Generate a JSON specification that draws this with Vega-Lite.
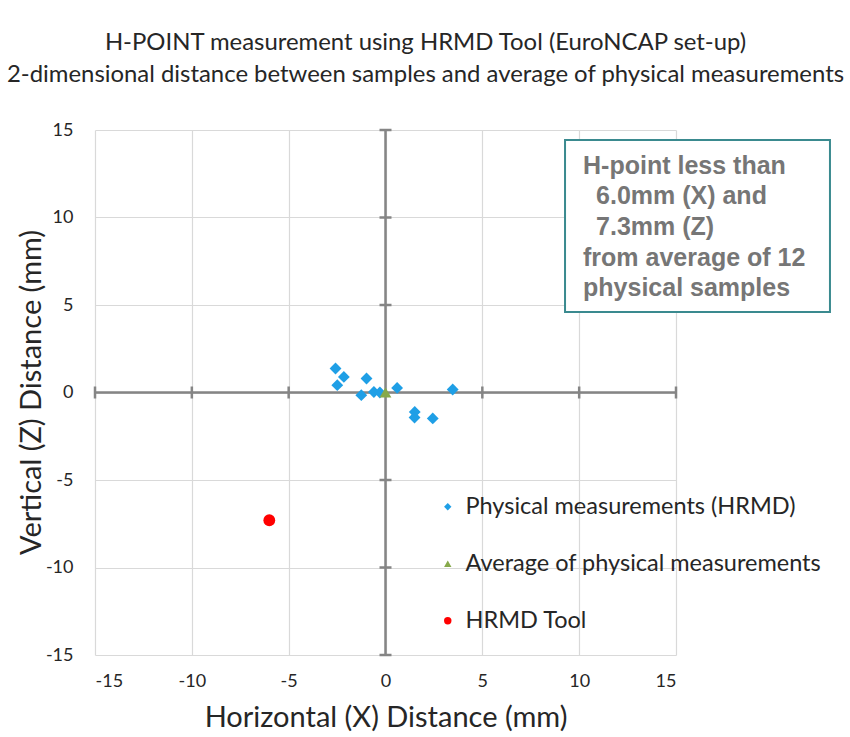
{
  "$schema": "https://vega.github.io/schema/vega-lite/v6.json",
  "width": 581,
  "height": 525,
  "autosize": {"type": "none"},
  "padding": {"left": 95, "top": 130, "right": 174, "bottom": 82},
  "background": "white",
  "config": {
    "view": {"stroke": null},
    "font": "Lato",
    "axis": {"labelFont": "Lato", "titleFont": "Lato"}
  },
  "title": {
    "text": ["H-POINT measurement using HRMD Tool (EuroNCAP set-up)", "2-dimensional distance between samples and average of physical measurements"],
    "font": "Lato",
    "fontSize": 23.9,
    "fontWeight": "normal",
    "color": "#262626",
    "anchor": "middle",
    "frame": "group",
    "dx": 40,
    "baseline": "alphabetic",
    "offset": 15,
    "lineHeight": 32
  },
  "datasets": {
    "pts": [
      {"x": -2.58, "z": 1.37, "series": "Physical measurements (HRMD)"},
      {"x": -2.15, "z": 0.89, "series": "Physical measurements (HRMD)"},
      {"x": -2.49, "z": 0.42, "series": "Physical measurements (HRMD)"},
      {"x": -0.98, "z": 0.8, "series": "Physical measurements (HRMD)"},
      {"x": -1.25, "z": -0.15, "series": "Physical measurements (HRMD)"},
      {"x": -0.6, "z": 0.03, "series": "Physical measurements (HRMD)"},
      {"x": -0.29, "z": 0.0, "series": "Physical measurements (HRMD)"},
      {"x": 0.6, "z": 0.26, "series": "Physical measurements (HRMD)"},
      {"x": 3.47, "z": 0.17, "series": "Physical measurements (HRMD)"},
      {"x": 1.51, "z": -1.11, "series": "Physical measurements (HRMD)"},
      {"x": 1.5, "z": -1.43, "series": "Physical measurements (HRMD)"},
      {"x": 2.44, "z": -1.48, "series": "Physical measurements (HRMD)"},
      {"x": 0.0, "z": 0.0, "series": "Average of physical measurements"},
      {"x": -6.0, "z": -7.3, "series": "HRMD Tool"}
    ],
    "ticks": [
      {"v": -15}, {"v": -10}, {"v": -5}, {"v": 5}, {"v": 10}, {"v": 15}
    ],
    "one": [{}]
  },
  "layer": [
    {
      "data": {"name": "pts"},
      "mark": {"type": "point", "opacity": 0},
      "encoding": {
        "x": {
          "field": "x", "type": "quantitative",
          "scale": {"domain": [-15, 15], "nice": false, "zero": false},
          "axis": {
            "values": [-15, -10, -5, 0, 5, 10, 15],
            "labelExpr": "datum.value + ''",
            "domain": false, "ticks": false,
            "grid": true, "gridColor": "#d9d9d9", "gridWidth": 1.2,
            "labelFontSize": 18, "labelColor": "#262626", "labelPadding": 17,
            "title": "Horizontal (X) Distance (mm)",
            "titleFontSize": 29, "titleFontWeight": "normal", "titleColor": "#262626",
            "titleY": 62, "titleBaseline": "middle"
          }
        },
        "y": {
          "field": "z", "type": "quantitative",
          "scale": {"domain": [-15, 15], "nice": false, "zero": false},
          "axis": {
            "values": [-15, -10, -5, 0, 5, 10, 15],
            "labelExpr": "datum.value + ''",
            "domain": false, "ticks": false,
            "grid": true, "gridColor": "#d9d9d9", "gridWidth": 1.2,
            "labelFontSize": 18, "labelColor": "#262626", "labelPadding": 22,
            "title": "Vertical (Z) Distance (mm)",
            "titleFontSize": 29, "titleFontWeight": "normal", "titleColor": "#262626",
            "titleX": -64, "titleY": 262, "titleAngle": -90, "titleBaseline": "middle", "titleAlign": "center"
          }
        }
      }
    },
    {
      "data": {"name": "one"},
      "mark": {"type": "rule", "color": "#858585", "strokeWidth": 2.5},
      "encoding": {"x": {"datum": 0, "type": "quantitative"}}
    },
    {
      "data": {"name": "one"},
      "mark": {"type": "rule", "color": "#858585", "strokeWidth": 2.5},
      "encoding": {"y": {"datum": 0, "type": "quantitative"}}
    },
    {
      "data": {"name": "ticks"},
      "mark": {"type": "tick", "orient": "vertical", "color": "#858585", "thickness": 2.5, "size": 12, "opacity": 1},
      "encoding": {
        "x": {"field": "v", "type": "quantitative"},
        "y": {"datum": 0, "type": "quantitative"}
      }
    },
    {
      "data": {"name": "ticks"},
      "mark": {"type": "tick", "orient": "horizontal", "color": "#858585", "thickness": 2.5, "size": 12, "opacity": 1},
      "encoding": {
        "y": {"field": "v", "type": "quantitative"},
        "x": {"datum": 0, "type": "quantitative"}
      }
    },
    {
      "data": {"name": "pts"},
      "mark": {"type": "point", "filled": true, "opacity": 1, "size": 140},
      "encoding": {
        "x": {"field": "x", "type": "quantitative"},
        "y": {"field": "z", "type": "quantitative"},
        "color": {
          "field": "series", "type": "nominal",
          "scale": {
            "domain": ["Physical measurements (HRMD)", "Average of physical measurements", "HRMD Tool"],
            "range": ["#1f9fe6", "#86a94a", "#ff0000"]
          },
          "legend": {
            "orient": "none", "legendX": 341, "legendY": 365,
            "title": null,
            "labelFont": "Lato", "labelFontSize": 23.5, "labelColor": "#262626",
            "symbolSize": 55, "rowPadding": 32, "labelOffset": 6,
            "labelLimit": 400, "symbolStrokeWidth": 0
          }
        },
        "shape": {
          "field": "series", "type": "nominal",
          "scale": {
            "domain": ["Physical measurements (HRMD)", "Average of physical measurements", "HRMD Tool"],
            "range": ["diamond", "triangle-up", "circle"]
          },
          "legend": {
            "orient": "none", "legendX": 341, "legendY": 365,
            "title": null,
            "labelFont": "Lato", "labelFontSize": 23.5, "labelColor": "#262626",
            "symbolSize": 55, "rowPadding": 32, "labelOffset": 6,
            "labelLimit": 400, "symbolStrokeWidth": 0
          }
        }
      }
    },
    {
      "data": {"name": "one"},
      "mark": {"type": "rect", "fill": "white", "stroke": "#3a8a8f", "strokeWidth": 2, "clip": false},
      "encoding": {
        "x": {"datum": 9.27, "type": "quantitative"},
        "x2": {"datum": 22.95},
        "y": {"datum": 14.43, "type": "quantitative"},
        "y2": {"datum": 4.6}
      }
    },
    {
      "data": {"name": "one"},
      "mark": {
        "type": "text", "align": "left", "baseline": "top",
        "font": "Liberation Sans", "fontSize": 25, "fontWeight": "bold",
        "color": "#767676", "lineHeight": 30.5,
        "text": "H-point less than"
      },
      "encoding": {
        "x": {"datum": 10.2, "type": "quantitative"},
        "y": {"datum": 13.63, "type": "quantitative"}
      }
    },
    {
      "data": {"name": "one"},
      "mark": {
        "type": "text", "align": "left", "baseline": "top", "dx": 13,
        "font": "Liberation Sans", "fontSize": 25, "fontWeight": "bold",
        "color": "#767676", "lineHeight": 30.5,
        "text": ["6.0mm (X) and", "7.3mm (Z)"]
      },
      "encoding": {
        "x": {"datum": 10.2, "type": "quantitative"},
        "y": {"datum": 11.89, "type": "quantitative"}
      }
    },
    {
      "data": {"name": "one"},
      "mark": {
        "type": "text", "align": "left", "baseline": "top",
        "font": "Liberation Sans", "fontSize": 25, "fontWeight": "bold",
        "color": "#767676", "lineHeight": 30.5,
        "text": ["from average of 12", "physical samples"]
      },
      "encoding": {
        "x": {"datum": 10.2, "type": "quantitative"},
        "y": {"datum": 8.4, "type": "quantitative"}
      }
    }
  ]
}
